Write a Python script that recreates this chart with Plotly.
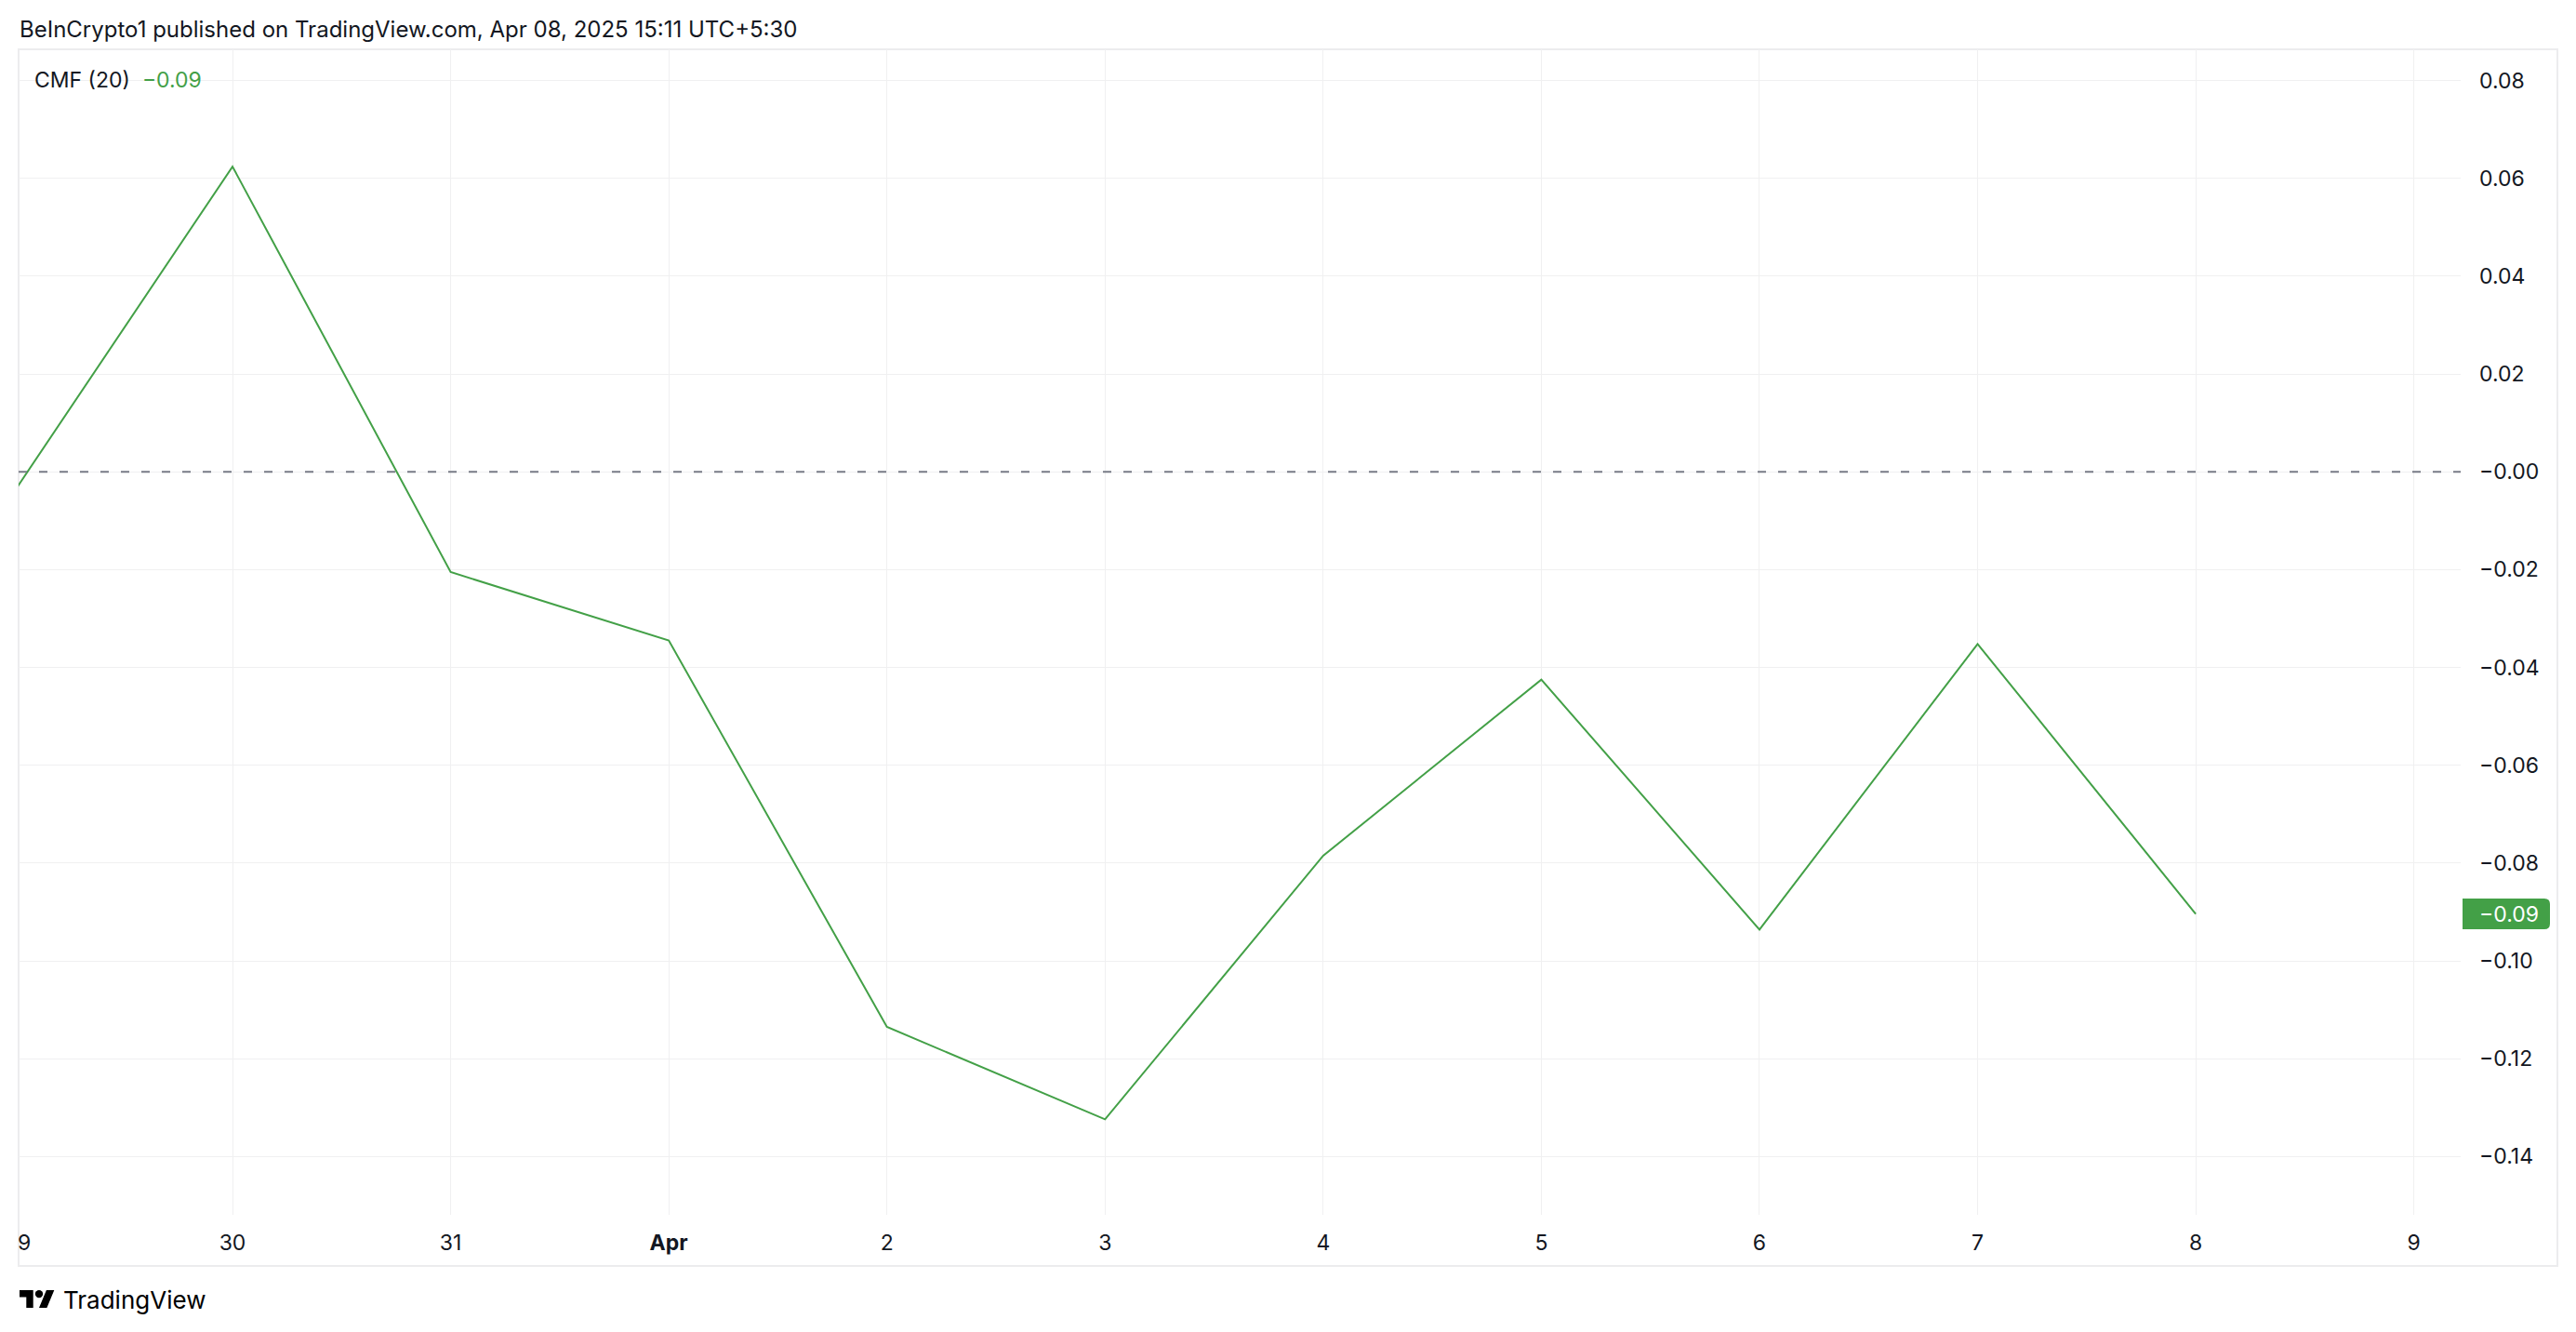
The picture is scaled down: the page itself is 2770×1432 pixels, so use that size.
import plotly.graph_objects as go

# ---- data ----
dates = ["2025-03-29", "2025-03-30", "2025-03-31", "2025-04-01", "2025-04-02",
         "2025-04-03", "2025-04-04", "2025-04-05", "2025-04-06", "2025-04-07", "2025-04-08"]
cmf_values = [-0.0040, 0.0624, -0.0205, -0.0345, -0.1135,
              -0.1324, -0.0785, -0.0425, -0.0936, -0.0352, -0.0904]
tick_dates = ["2025-03-30", "2025-03-31", "2025-04-01", "2025-04-02", "2025-04-03",
              "2025-04-04", "2025-04-05", "2025-04-06", "2025-04-07", "2025-04-08", "2025-04-09"]
tick_labels = ["30", "31", "<b>Apr</b>", "2", "3", "4", "5", "6", "7", "8", "9"]
y_ticks = [0.08, 0.06, 0.04, 0.02, 0.0, -0.02, -0.04, -0.06, -0.08, -0.10, -0.12, -0.14]
y_tick_labels = ["0.08", "0.06", "0.04", "0.02", "\u22120.00", "\u22120.02", "\u22120.04",
                 "\u22120.06", "\u22120.08", "\u22120.10", "\u22120.12", "\u22120.14"]
last_label = "\u22120.09"
header = "BeInCrypto1 published on TradingView.com, Apr 08, 2025 15:11 UTC+5:30"

# ---- layout geometry ----
W, H = 2770, 1432
L, R, T, B = 20, 2646, 53, 1306
PW, PH = R - L, B - T

def px(x):
    return (x - L) / PW

def py(y):
    return (B - y) / PH

GREEN = "#43a047"
TEXT = "#131722"
GRID = "#f0f0f1"
FONT = "Inter"

fig = go.Figure()
fig.add_trace(go.Scatter(x=dates, y=cmf_values, mode="lines",
                         line=dict(color=GREEN, width=2), hoverinfo="skip",
                         showlegend=False))

fig.update_layout(
    width=W, height=H,
    margin=dict(l=L, r=W - R, t=T, b=H - B, pad=0),
    paper_bgcolor="white", plot_bgcolor="white",
    font=dict(family=FONT, color=TEXT, size=23),
    showlegend=False,
    xaxis=dict(type="date", range=["2025-03-29 00:28", "2025-04-09 05:09"],
               tickmode="array", tickvals=tick_dates, ticktext=tick_labels,
               showgrid=True, gridcolor=GRID, gridwidth=1,
               zeroline=False, showline=False, ticks="",
               ticklabelstandoff=14, tickfont=dict(size=23, color=TEXT)),
    yaxis=dict(side="right", range=[-0.15192, 0.08638],
               tickmode="array", tickvals=y_ticks, ticktext=y_tick_labels,
               showgrid=True, gridcolor=GRID, gridwidth=1,
               zeroline=False, showline=False, ticks="",
               ticklabelstandoff=19, tickfont=dict(size=23, color=TEXT)),
)

# outer frame
fig.add_shape(type="rect", xref="paper", yref="paper",
              x0=px(20), x1=px(2750), y0=py(1361), y1=py(53),
              line=dict(color="#ececee", width=2), layer="below")
# zero dashed line
fig.add_shape(type="line", xref="paper", yref="y", x0=0, x1=1, y0=0, y1=0,
              line=dict(color="#787b86", width=2, dash="9px,13px"))

# last value badge
fig.add_shape(type="path", xref="paper", yref="y", xsizemode="pixel", ysizemode="pixel",
              xanchor=1, yanchor=cmf_values[-1],
              path="M 2 -16.5 L 90 -16.5 Q 96 -16.5 96 -10.5 L 96 10.5 Q 96 16.5 90 16.5 L 2 16.5 Z",
              fillcolor=GREEN, line=dict(width=0), layer="above")
fig.add_annotation(xref="paper", yref="y", x=1, y=cmf_values[-1], xanchor="left",
                   yanchor="middle", xshift=18, text=last_label, showarrow=False,
                   font=dict(color="white", size=23, family=FONT))

# partially visible "29" label at left edge
fig.add_annotation(xref="paper", yref="paper", x=px(17), y=py(1335.5), xanchor="left",
                   yanchor="middle", text="9", showarrow=False,
                   font=dict(size=23, color=TEXT))

# header
fig.add_annotation(xref="paper", yref="paper", x=px(19), y=py(31), xanchor="left",
                   yanchor="middle", text=header, showarrow=False,
                   font=dict(size=24, color=TEXT))
# indicator legend
fig.add_annotation(xref="paper", yref="paper", x=px(35), y=py(86), xanchor="left",
                   yanchor="middle",
                   text="CMF (20)&nbsp;&nbsp;<span style='color:%s'>%s</span>" % (GREEN, last_label),
                   showarrow=False, font=dict(size=23, color=TEXT))

# TradingView logo
fig.add_shape(type="path", xref="paper", yref="paper", xsizemode="pixel", ysizemode="pixel",
              xanchor=px(21), yanchor=py(1396.5),
              path="M 0 9.5 L 14.7 9.5 L 14.7 -9.5 L 7.3 -9.5 L 7.3 2 L 0 2 Z "
                   "M 21 -9.5 L 29.4 -9.5 L 37.3 9.5 L 28.9 9.5 Z",
              fillcolor="#000000", line=dict(width=0))
fig.add_shape(type="circle", xref="paper", yref="paper", xsizemode="pixel", ysizemode="pixel",
              xanchor=px(21), yanchor=py(1396.5),
              x0=16.8, x1=25.2, y0=1.2, y1=9.6,
              fillcolor="#000000", line=dict(width=0))
fig.add_annotation(xref="paper", yref="paper", x=px(66), y=py(1397), xanchor="left",
                   yanchor="middle", text="TradingView", showarrow=False,
                   font=dict(size=26, color="#000000"))

fig.write_html("out.html",
               config={"displayModeBar": False},
               post_script="document.body.style.margin='0';"
                           "document.body.style.overflow='hidden';")
